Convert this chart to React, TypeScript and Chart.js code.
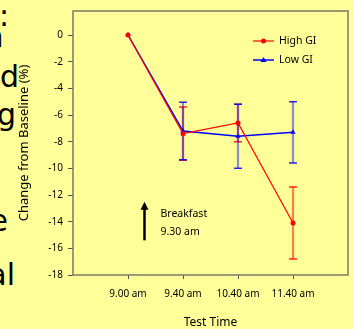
import React, { useEffect, useRef } from "react";
import { Chart, registerables } from "chart.js";
Chart.register(...registerables);

// ---- data ----
const categories = ["9.00 am", "9.40 am", "10.40 am", "11.40 am"];
const highGI = [0, -7.4, -6.6, -14.1];
const highGIErr = [0, 2.0, 1.4, 2.7];
const lowGI = [0, -7.2, -7.6, -7.3];
const lowGIErr = [0, 2.15, 2.4, 2.3];
const yTicks = [0, -2, -4, -6, -8, -10, -12, -14, -16, -18];
const seriesLabels = ["High GI", "Low GI"];
const annotationLines = ["Breakfast", "9.30 am"];
const annotationX = 1.3; // between first and second category
const arrowTop = -12.5;
const arrowBottom = -15.4;

const FONT = "'Noto Sans', sans-serif";
const BG = "#ffff99";

const leftFragments = [
  { text: ":", top: 1, right: 9 },
  { text: "n", top: 22, right: 3.5 },
  { text: "d", top: 62, right: 19 },
  { text: "g", top: 100, right: 16 },
  { text: "e", top: 206, right: 8 },
  { text: "al", top: 260, right: 15 },
];

const overlayPlugin = {
  id: "overlay",
  beforeDatasetsDraw(chart: any) {
    const { ctx, chartArea, scales } = chart;
    const xs = scales.x;
    const ys = scales.y;
    ctx.save();
    ctx.fillStyle = BG;
    ctx.fillRect(chartArea.left, chartArea.top, chartArea.right - chartArea.left, chartArea.bottom - chartArea.top);
    const sets = [
      { vals: highGI, errs: highGIErr, line: "rgba(255,0,0,0.5)", cap: "rgba(255,0,0,0.85)" },
      { vals: lowGI, errs: lowGIErr, line: "rgba(0,0,255,0.45)", cap: "rgba(0,0,255,0.85)" },
    ];
    sets.forEach((s) => {
      s.vals.forEach((v, i) => {
        const e = s.errs[i];
        if (!e) return;
        const px = xs.getPixelForValue(i + 1);
        const pTop = ys.getPixelForValue(v + e);
        const pBot = ys.getPixelForValue(v - e);
        ctx.strokeStyle = s.line;
        ctx.lineWidth = 2.2;
        ctx.beginPath();
        ctx.moveTo(px, pTop);
        ctx.lineTo(px, pBot);
        ctx.stroke();
        ctx.strokeStyle = s.cap;
        ctx.lineWidth = 1.5;
        ctx.beginPath();
        ctx.moveTo(px - 4, pTop);
        ctx.lineTo(px + 4, pTop);
        ctx.moveTo(px - 4, pBot);
        ctx.lineTo(px + 4, pBot);
        ctx.stroke();
      });
    });
    ctx.restore();
  },
  afterDraw(chart: any) {
    const { ctx, chartArea, scales } = chart;
    const xs = scales.x;
    const ys = scales.y;
    ctx.save();
    // box
    ctx.strokeStyle = "#7a7a6a";
    ctx.lineWidth = 1.5;
    ctx.strokeRect(chartArea.left, chartArea.top, chartArea.right - chartArea.left, chartArea.bottom - chartArea.top);

    // legend
    const lx0 = chartArea.right - 95;
    const lx1 = chartArea.right - 74;
    chart.data.datasets.forEach((ds: any, i: number) => {
      const ly = chartArea.top + 30 + i * 19;
      ctx.strokeStyle = ds.borderColor;
      ctx.lineWidth = ds.borderWidth;
      ctx.beginPath();
      ctx.moveTo(lx0, ly);
      ctx.lineTo(lx1, ly);
      ctx.stroke();
      ctx.fillStyle = ds.borderColor;
      const mx = (lx0 + lx1) / 2;
      ctx.beginPath();
      if (ds.pointStyle === "triangle") {
        ctx.moveTo(mx, ly - 3);
        ctx.lineTo(mx + 3, ly + 2);
        ctx.lineTo(mx - 3, ly + 2);
        ctx.closePath();
      } else {
        ctx.arc(mx, ly, 2.5, 0, Math.PI * 2);
      }
      ctx.fill();
      ctx.fillStyle = "#000";
      ctx.font = `10.5px ${FONT}`;
      ctx.textBaseline = "middle";
      ctx.textAlign = "left";
      ctx.fillText(ds.label, lx1 + 5, ly);
    });

    // annotation arrow
    const ax = xs.getPixelForValue(annotationX);
    const aTop = ys.getPixelForValue(arrowTop);
    const aBot = ys.getPixelForValue(arrowBottom);
    ctx.strokeStyle = "#000";
    ctx.fillStyle = "#000";
    ctx.lineWidth = 2.5;
    ctx.beginPath();
    ctx.moveTo(ax, aBot);
    ctx.lineTo(ax, aTop + 6);
    ctx.stroke();
    ctx.beginPath();
    ctx.moveTo(ax, aTop);
    ctx.lineTo(ax + 4, aTop + 8);
    ctx.lineTo(ax - 4, aTop + 8);
    ctx.closePath();
    ctx.fill();
    ctx.font = `10.5px ${FONT}`;
    ctx.textBaseline = "middle";
    ctx.textAlign = "left";
    ctx.fillText(annotationLines[0], ax + 16, aTop + 12);
    ctx.fillText(annotationLines[1], ax + 16, aTop + 30);
    ctx.restore();
  },
};

export default function App() {
  const ref = useRef<HTMLCanvasElement | null>(null);
  useEffect(() => {
    if (!ref.current) return;
    const chart = new Chart(ref.current, {
      type: "line",
      data: {
        datasets: [
          {
            label: seriesLabels[0],
            data: highGI.map((v, i) => ({ x: i + 1, y: v })),
            borderColor: "#ff0000",
            backgroundColor: "#ff0000",
            borderWidth: 1.2,
            pointStyle: "circle",
            pointRadius: 2.5,
            pointBorderWidth: 0,
          },
          {
            label: seriesLabels[1],
            data: lowGI.map((v, i) => ({ x: i + 1, y: v })),
            borderColor: "#0000ff",
            backgroundColor: "#0000ff",
            borderWidth: 1.5,
            pointStyle: "triangle",
            pointRadius: 3,
            pointBorderWidth: 0,
          },
        ],
      },
      options: {
        animation: false,
        responsive: false,
        devicePixelRatio: 1,
        layout: { padding: { left: 13, top: 9, right: 6, bottom: 0 } },
        plugins: { legend: { display: false }, tooltip: { enabled: false } },
        elements: { line: { tension: 0 } },
        scales: {
          x: {
            type: "linear",
            min: 0,
            max: 5,
            afterBuildTicks: (s: any) => {
              s.ticks = categories.map((_, i) => ({ value: i + 1 }));
            },
            afterFit: (s: any) => {
              s.height = 54;
            },
            ticks: {
              autoSkip: false,
              maxRotation: 0,
              padding: 9,
              color: "#000",
              font: { family: FONT, size: 10 },
              callback: (v: any) => categories[Number(v) - 1] ?? "",
            },
            grid: { drawOnChartArea: false, drawTicks: true, tickLength: 4, color: "#555" },
            border: { display: false },
            title: {
              display: true,
              text: "Test Time",
              color: "#000",
              font: { family: FONT, size: 12 },
              padding: { top: 4, bottom: -1 },
            },
          },
          y: {
            min: -18,
            max: 1.8,
            afterBuildTicks: (s: any) => {
              s.ticks = yTicks.map((v) => ({ value: v }));
            },
            afterFit: (s: any) => {
              s.width = 60;
            },
            ticks: {
              padding: 5,
              color: "#000",
              font: { family: FONT, size: 10 },
              callback: (v: any) => String(v),
            },
            grid: { drawOnChartArea: false, drawTicks: true, tickLength: 5, color: "#555" },
            border: { display: false },
            title: {
              display: true,
              text: "Change from Baseline (%)",
              color: "#000",
              font: { family: FONT, size: 13 },
              padding: { top: 3, bottom: 4 },
            },
          },
        },
      },
      plugins: [overlayPlugin],
    } as any);
    return () => chart.destroy();
  }, []);

  return (
    <div
      style={{
        position: "fixed",
        left: 0,
        top: 0,
        width: 354,
        height: 329,
        background: BG,
        overflow: "hidden",
      }}
    >
      {leftFragments.map((f, i) => (
        <span
          key={i}
          style={{
            position: "absolute",
            top: f.top,
            right: 354 - f.right,
            fontFamily: "'DejaVu Sans', sans-serif",
            fontSize: 30,
            lineHeight: 1,
            whiteSpace: "nowrap",
            color: "#000",
          }}
        >
          {f.text}
        </span>
      ))}
      <canvas
        ref={ref}
        width={354}
        height={329}
        style={{ position: "absolute", left: 0, top: 0, width: 354, height: 329, display: "block" }}
      />
    </div>
  );
}
